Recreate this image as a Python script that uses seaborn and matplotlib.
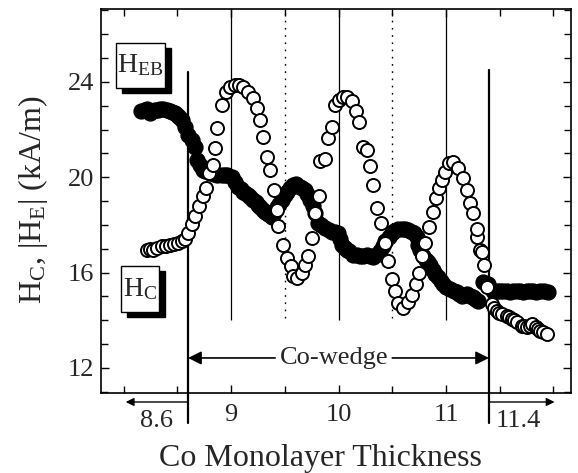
import matplotlib
matplotlib.use("Agg")
import matplotlib.pyplot as plt
import seaborn as sns
import pandas as pd
from matplotlib.patches import Rectangle

# ---------------- data ----------------
heb_x = [8.216, 8.277, 8.355, 8.433, 8.510, 8.572, 8.603, 8.634, 8.665, 8.705,
         8.737, 8.767, 8.798, 8.830, 8.851, 8.873, 8.913, 8.953, 8.991, 9.037,
         9.077, 9.114, 9.161, 9.202, 9.239, 9.270, 9.300, 9.338, 9.363, 9.400,
         9.425, 9.440, 9.487, 9.518, 9.555, 9.580, 9.617, 9.658, 9.688, 9.719,
         9.751, 9.781, 9.821, 9.828, 9.874, 9.905, 9.937, 9.967, 10.007, 10.045,
         10.082, 10.123, 10.163, 10.193, 10.231, 10.262, 10.293, 10.324, 10.355, 10.393,
         10.433, 10.463, 10.495, 10.526, 10.556, 10.603, 10.647, 10.684, 10.721, 10.749,
         10.777, 10.805, 10.842, 10.879, 10.907, 10.935, 10.963, 10.991, 11.028, 11.065,
         11.112, 11.158, 11.195, 11.223, 11.251, 11.288, 11.288, 11.316, 11.335, 11.353,
         11.381, 11.428, 11.474, 11.521, 11.567, 11.614, 11.660, 11.707, 11.753, 11.800,
         11.837, 11.874, 11.940,
         8.245, 8.315, 8.392, 8.470, 8.540, 11.450, 11.497, 11.590, 11.637, 11.730,
         11.780, 11.856, 11.905]
heb_y = [16.97, 16.94, 17.11, 17.18, 17.25, 17.39, 17.67, 18.02, 18.36, 18.78,
         19.20, 19.55, 20.18, 20.53, 21.23, 22.06, 23.04, 23.59, 23.80, 23.87,
         23.87, 23.80, 23.59, 23.32, 22.90, 22.41, 21.71, 20.87, 20.32, 19.48,
         18.64, 17.95, 17.18, 16.62, 16.27, 15.85, 15.79, 16.00, 16.34, 16.69,
         17.46, 18.51, 19.20, 20.67, 20.77, 21.64, 22.13, 23.04, 23.25, 23.38,
         23.38, 23.18, 22.76, 22.34, 21.29, 21.15, 20.46, 19.69, 18.72, 18.09,
         17.25, 16.48, 15.72, 15.23, 14.74, 14.53, 14.75, 15.05, 15.51, 15.97,
         16.68, 17.26, 17.93, 18.56, 19.15, 19.56, 19.90, 20.23, 20.61, 20.65,
         20.40, 19.98, 19.48, 18.94, 18.52, 17.81, 17.51, 16.97, 16.85, 16.34,
         15.38, 14.67, 14.38, 14.25, 14.17, 14.04, 13.92, 13.75, 13.71, 13.83,
         13.71, 13.54, 13.41,
         16.99, 17.02, 17.13, 17.21, 17.31, 14.52, 14.31, 14.12, 14.00, 13.74,
         13.78, 13.64, 13.50]

hc_x = [8.160, 8.200, 8.220, 8.247, 8.270, 8.293, 8.320, 8.340, 8.370, 8.405,
        8.430, 8.451, 8.480, 8.498, 8.520, 8.544, 8.572, 8.600, 8.637, 8.665,
        8.684, 8.712, 8.740, 8.760, 8.805, 8.840, 8.870, 8.916, 8.940, 8.963,
        9.009, 9.037, 9.065, 9.090, 9.112, 9.130, 9.158, 9.180, 9.205, 9.230,
        9.251, 9.270, 9.298, 9.320, 9.344, 9.360, 9.381, 9.400, 9.428, 9.450,
        9.474, 9.500, 9.521, 9.550, 9.577, 9.600, 9.642, 9.660, 9.688, 9.710,
        9.735, 9.760, 9.781, 9.809, 9.840, 9.874, 9.910, 9.940, 9.970, 9.995,
        10.010, 10.033, 10.060, 10.079, 10.100, 10.135, 10.170, 10.200, 10.230, 10.265,
        10.290, 10.321, 10.350, 10.386, 10.410, 10.433, 10.470, 10.498, 10.520, 10.553,
        10.590, 10.619, 10.650, 10.684, 10.700, 10.730, 10.740, 10.760, 10.786, 10.810,
        10.833, 10.850, 10.879, 10.900, 10.926, 10.950, 10.972, 11.000, 11.037, 11.070,
        11.102, 11.120, 11.149, 11.170, 11.195, 11.220, 11.251, 11.270, 11.298, 11.344,
        11.391, 11.437, 11.470, 11.502, 11.530, 11.567, 11.600, 11.623, 11.660, 11.688,
        11.720, 11.753, 11.780, 11.809, 11.840, 11.874, 11.910, 11.949]
hc_y = [22.78, 22.83, 22.85, 22.70, 22.80, 22.83, 22.82, 22.87, 22.86, 22.83,
        22.78, 22.74, 22.68, 22.62, 22.52, 22.41, 22.12, 21.78, 21.57, 21.28,
        20.74, 20.53, 20.32, 20.25, 20.19, 20.15, 20.11, 20.11, 20.10, 20.11,
        20.03, 19.82, 19.61, 19.50, 19.40, 19.35, 19.27, 19.18, 19.06, 18.95,
        18.85, 18.75, 18.64, 18.55, 18.44, 18.40, 18.35, 18.50, 18.77, 18.90,
        19.06, 19.25, 19.40, 19.55, 19.69, 19.70, 19.61, 19.55, 19.48, 19.30,
        19.06, 18.80, 18.52, 18.10, 18.00, 17.89, 17.80, 17.72, 17.70, 17.68,
        17.40, 17.18, 17.05, 16.97, 16.90, 16.76, 16.72, 16.68, 16.70, 16.76,
        16.70, 16.64, 16.75, 16.89, 17.10, 17.31, 17.50, 17.68, 17.75, 17.81,
        17.82, 17.81, 17.78, 17.72, 17.65, 17.51, 17.18, 16.95, 16.68, 16.55,
        16.43, 16.30, 16.13, 15.95, 15.80, 15.65, 15.51, 15.40, 15.30, 15.25,
        15.17, 15.10, 15.00, 15.05, 15.09, 15.02, 14.96, 14.90, 14.79, 15.59,
        15.51, 15.21, 15.22, 15.21, 15.24, 15.21, 15.20, 15.21, 15.23, 15.21,
        15.20, 15.21, 15.22, 15.21, 15.20, 15.21, 15.22, 15.17]

x_major = [9, 10, 11]
x_minor = [8.0, 8.5, 9.5, 10.5, 11.5, 12.0]
y_major = [12, 16, 20, 24]
y_minor = [11, 13, 14, 15, 17, 18, 19, 21, 22, 23, 25, 26, 27]
wedge_edges = [8.6, 11.4]
solid_guides = [9, 10, 11]
dotted_guides = [9.5, 10.5]

# ---------------- style ----------------
sns.set_style("ticks")
plt.rcParams['font.family'] = ['Liberation Serif', 'DejaVu Serif']
plt.rcParams['mathtext.fontset'] = 'custom'
plt.rcParams['mathtext.rm'] = 'Liberation Serif'
plt.rcParams['mathtext.it'] = 'Liberation Serif:italic'

W, H = 578, 473
fig = plt.figure(figsize=(W / 100, H / 100), dpi=100)
ax = fig.add_axes([101 / W, 1 - 393 / H, 470 / W, 384 / H])

hc_df = pd.DataFrame({"x": hc_x, "y": hc_y})
heb_df = pd.DataFrame({"x": heb_x, "y": heb_y}).sort_values("x")

sns.scatterplot(data=hc_df, x="x", y="y", ax=ax, color="black",
                edgecolor="black", s=115, linewidth=1.0, zorder=3, legend=False)
sns.scatterplot(data=heb_df, x="x", y="y", ax=ax, color="white",
                edgecolor="black", s=88, linewidth=1.4, zorder=4, legend=False)

ax.set_xlim(7.79, 12.163)
ax.set_ylim(10.95, 27.06)

# guide lines
ax.vlines(solid_guides, 14.0, 27.06, color="black", lw=0.9, zorder=1)
ax.vlines(dotted_guides, 14.1, 27.06, color="black", lw=1.0,
          linestyles=[(0, (1.2, 4))], zorder=1)
ax.plot([wedge_edges[0]] * 2, [24.42, 9.7], color="black", lw=1.6,
        clip_on=False, zorder=2)
ax.plot([wedge_edges[1]] * 2, [24.5, 9.7], color="black", lw=1.6,
        clip_on=False, zorder=2)

# Co-wedge arrows
ay = 12.42
ax.text(9.955, ay, "Co-wedge", ha="center", va="center", fontsize=19, zorder=5)
ax.annotate("", xy=(wedge_edges[0], ay), xytext=(9.41, ay),
            arrowprops=dict(arrowstyle="-|>", color="black", lw=1.2,
                            mutation_scale=20, shrinkA=0, shrinkB=0))
ax.annotate("", xy=(wedge_edges[1], ay), xytext=(10.50, ay),
            arrowprops=dict(arrowstyle="-|>", color="black", lw=1.2,
                            mutation_scale=20, shrinkA=0, shrinkB=0))

# arrows below axis
by = 10.573
ax.annotate("", xy=(8.02, by), xytext=(wedge_edges[0], by), annotation_clip=False,
            arrowprops=dict(arrowstyle="-|>", color="black", lw=1.0,
                            mutation_scale=12, shrinkA=0, shrinkB=0))
ax.annotate("", xy=(12.01, by), xytext=(wedge_edges[1], by), annotation_clip=False,
            arrowprops=dict(arrowstyle="-|>", color="black", lw=1.0,
                            mutation_scale=12, shrinkA=0, shrinkB=0))

# ticks
ax.set_xticks(x_major)
ax.set_xticklabels([str(v) for v in x_major])
ax.set_xticks(x_minor, minor=True)
ax.set_yticks(y_major)
ax.set_yticklabels([str(v) for v in y_major])
ax.set_yticks(y_minor, minor=True)
ax.tick_params(which="both", direction="in", top=True, right=True,
               width=1.0, labelsize=19, color="black")
ax.tick_params(which="major", length=6)
ax.tick_params(which="minor", length=5)
ax.tick_params(axis="x", pad=8)
ax.tick_params(axis="y", pad=5)
for sp in ax.spines.values():
    sp.set_linewidth(1.2)
    sp.set_color("black")
ax.set_xlabel("")
ax.set_ylabel("")

# extra boundary labels
fig.text(156 / W, 1 - 421 / H, "8.6", ha="center", va="center", fontsize=19)
fig.text(518 / W, 1 - 421 / H, "11.4", ha="center", va="center", fontsize=19)

# axis labels
fig.text(320 / W, 1 - 458 / H, "Co Monolayer Thickness", ha="center",
         va="center", fontsize=23)
fig.text(33 / W, 1 - 200 / H,
         r"H$_\mathregular{C}$, |H$_\mathregular{E}$| (kA/m)",
         ha="center", va="center", rotation=90, fontsize=23)

# boxed series labels with shadow
def boxed(x0, y0, x1, y1, label):
    sh = Rectangle(((x0 + 6) / W, 1 - (y1 + 5) / H), (x1 - x0) / W, (y1 - y0) / H,
                   transform=fig.transFigure, fc="black", ec="black", lw=1, zorder=5)
    bx = Rectangle((x0 / W, 1 - y1 / H), (x1 - x0) / W, (y1 - y0) / H,
                   transform=fig.transFigure, fc="white", ec="black", lw=1, zorder=6)
    fig.patches.extend([sh, bx])
    fig.text((x0 + x1) / 2 / W, 1 - (y0 + y1) / 2 / H, label, ha="center",
             va="center", fontsize=20, zorder=7)

boxed(116, 43, 165, 88, r"H$_\mathregular{EB}$")
boxed(121, 266, 159, 312, r"H$_\mathregular{C}$")

fig.savefig("out.png", dpi=100)
